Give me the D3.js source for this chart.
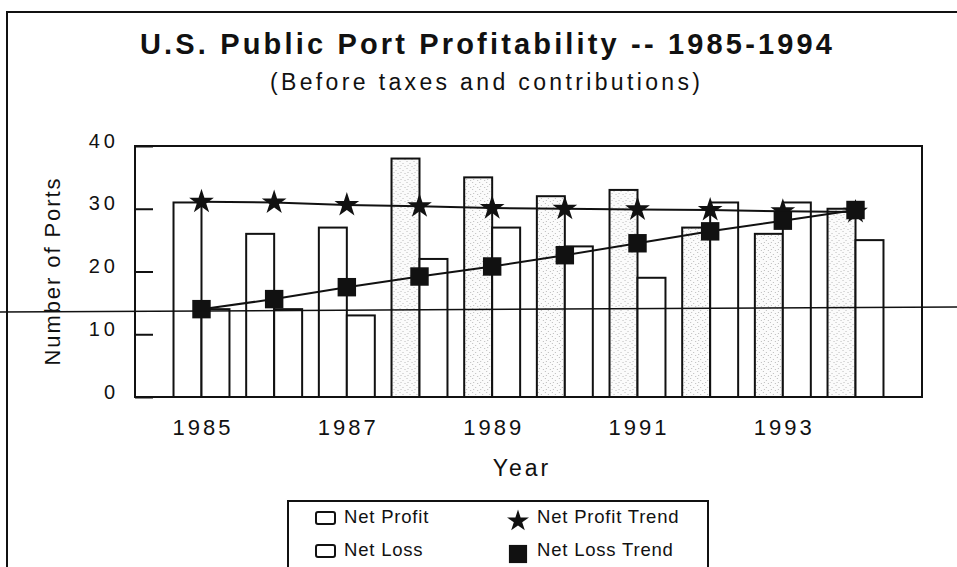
<!DOCTYPE html>
<html>
<head>
<meta charset="utf-8">
<script src="https://cdn.jsdelivr.net/npm/d3@7"></script>
<style>
  html, body { margin: 0; padding: 0; background: #fff; }
  svg { display: block; }
  text { font-family: "Liberation Sans", Arial, sans-serif; fill: #111; }
</style>
</head>
<body>
<div id="chart"></div>
<script>
const years = [1985, 1986, 1987, 1988, 1989, 1990, 1991, 1992, 1993, 1994];
const netProfit = [31, 26, 27, 38, 35, 32, 33, 27, 26, 30];
const netLoss = [14, 14, 13, 22, 27, 24, 19, 31, 31, 25];
const netProfitTrend = [31.1, 31.0, 30.6, 30.4, 30.1, 30.0, 29.9, 29.8, 29.6, 29.5];
const netLossTrend = [14.0, 15.6, 17.5, 19.2, 20.8, 22.6, 24.5, 26.4, 28.1, 29.8];
const yTicks = [0, 10, 20, 30, 40];
const xTickYears = [1985, 1987, 1989, 1991, 1993];

function draw() {
  const w = 957, h = 567;
  const margin = { top: 146, right: 35, bottom: 170, left: 135 };
  const innerW = w - margin.left - margin.right;
  const innerH = h - margin.top - margin.bottom;

  const svg = d3.select("#chart").append("svg")
    .attr("width", w)
    .attr("height", h);

  // stipple used on the profit bars (scanned look)
  const pat = svg.append("defs").append("pattern")
    .attr("id", "stipple")
    .attr("width", 7).attr("height", 7)
    .attr("patternUnits", "userSpaceOnUse");
  pat.append("rect").attr("width", 7).attr("height", 7).attr("fill", "#fbfbfb");
  [[1, 1], [4, 3], [2, 5], [6, 6]].forEach(([cx, cy]) =>
    pat.append("rect").attr("x", cx).attr("y", cy).attr("width", 1).attr("height", 1).attr("fill", "#bbb"));

  // outer frame
  svg.append("rect")
    .attr("x", 7).attr("y", 12)
    .attr("width", 990).attr("height", 600)
    .attr("fill", "none").attr("stroke", "#111").attr("stroke-width", 2);

  svg.append("text")
    .attr("x", 486).attr("y", 54)
    .attr("text-anchor", "middle")
    .attr("font-size", 29).attr("font-weight", "bold")
    .attr("textLength", 692).attr("lengthAdjust", "spacing")
    .text("U.S. Public Port Profitability -- 1985-1994");

  svg.append("text")
    .attr("x", 485).attr("y", 90)
    .attr("text-anchor", "middle")
    .attr("font-size", 23)
    .attr("textLength", 430).attr("lengthAdjust", "spacing")
    .text("(Before taxes and contributions)");

  const g = svg.append("g")
    .attr("transform", `translate(${margin.left},${margin.top})`);

  const x0 = d3.scaleBand()
    .domain(years)
    .range([0, innerW])
    .paddingInner(0.23)
    .paddingOuter(0.53);

  const x1 = d3.scaleBand()
    .domain(["profit", "loss"])
    .range([0, x0.bandwidth()]);

  const y = d3.scaleLinear()
    .domain([0, 40])
    .range([innerH, 0]);

  const rows = years.map((yr, i) => ({
    year: yr,
    profit: netProfit[i],
    loss: netLoss[i],
    pTrend: netProfitTrend[i],
    lTrend: netLossTrend[i]
  }));

  // bars
  const grp = g.selectAll("g.year")
    .data(rows)
    .join("g")
    .attr("class", "year")
    .attr("transform", d => `translate(${x0(d.year)},0)`);

  grp.append("rect")
    .attr("x", x1("profit"))
    .attr("y", d => y(d.profit))
    .attr("width", x1.bandwidth())
    .attr("height", d => innerH - y(d.profit))
    .attr("fill", d => d.year >= 1988 ? "url(#stipple)" : "#fff")
    .attr("stroke", "#111").attr("stroke-width", 2);

  grp.append("rect")
    .attr("x", x1("loss"))
    .attr("y", d => y(d.loss))
    .attr("width", x1.bandwidth())
    .attr("height", d => innerH - y(d.loss))
    .attr("fill", "#fff")
    .attr("stroke", "#111").attr("stroke-width", 2);

  // plot frame
  g.append("rect")
    .attr("width", innerW).attr("height", innerH)
    .attr("fill", "none").attr("stroke", "#111").attr("stroke-width", 2);

  // axes
  const yAxis = g.append("g")
    .call(d3.axisLeft(y).tickValues(yTicks).tickSize(-18).tickPadding(16));
  yAxis.select(".domain").remove();
  yAxis.selectAll("line").attr("stroke", "#111").attr("stroke-width", 2);
  yAxis.selectAll("text")
    .attr("dy", "0.05em")
    .attr("font-size", 20)
    .attr("letter-spacing", 4)
    .style("font-family", "'Liberation Sans', Arial, sans-serif")
    .attr("fill", "#111");

  const xAxis = g.append("g")
    .attr("transform", `translate(0,${innerH})`)
    .call(d3.axisBottom(x0).tickValues(xTickYears).tickSize(0).tickPadding(22));
  xAxis.select(".domain").remove();
  xAxis.selectAll("text")
    .attr("font-size", 22)
    .attr("letter-spacing", 3)
    .attr("dx", 1.5)
    .style("font-family", "'Liberation Sans', Arial, sans-serif")
    .attr("fill", "#111");

  // trend lines
  const cx = d => x0(d.year) + x0.bandwidth() / 2;

  g.append("path")
    .datum(rows)
    .attr("fill", "none").attr("stroke", "#111").attr("stroke-width", 2)
    .attr("d", d3.line().x(cx).y(d => y(d.pTrend)));

  g.append("path")
    .datum(rows)
    .attr("fill", "none").attr("stroke", "#111").attr("stroke-width", 2)
    .attr("d", d3.line().x(cx).y(d => y(d.lTrend)));

  const star = d3.symbol().type(d3.symbolStar).size(190);
  const square = d3.symbol().type(d3.symbolSquare).size(340);

  g.selectAll("path.star")
    .data(rows)
    .join("path")
    .attr("class", "star")
    .attr("transform", d => `translate(${cx(d)},${y(d.pTrend)})`)
    .attr("d", star)
    .attr("fill", "#111");

  g.selectAll("path.sq")
    .data(rows)
    .join("path")
    .attr("class", "sq")
    .attr("transform", d => `translate(${cx(d)},${y(d.lTrend)})`)
    .attr("d", square)
    .attr("fill", "#111");

  // axis titles
  svg.append("text")
    .attr("transform", "translate(60,272) rotate(-90)")
    .attr("text-anchor", "middle")
    .attr("font-size", 22)
    .attr("textLength", 187).attr("lengthAdjust", "spacing")
    .text("Number of Ports");

  svg.append("text")
    .attr("x", 522).attr("y", 476)
    .attr("text-anchor", "middle")
    .attr("font-size", 23)
    .attr("letter-spacing", 3)
    .text("Year");

  // legend
  const lg = svg.append("g");
  lg.append("rect")
    .attr("x", 288).attr("y", 501)
    .attr("width", 420).attr("height", 100)
    .attr("fill", "#fff").attr("stroke", "#111").attr("stroke-width", 2);

  const items = [
    { label: "Net Profit", kind: "box", x: 316, y: 517 },
    { label: "Net Loss", kind: "box", x: 316, y: 550 },
    { label: "Net Profit Trend", kind: "star", x: 507, y: 517 },
    { label: "Net Loss Trend", kind: "square", x: 507, y: 550 }
  ];

  items.forEach(it => {
    if (it.kind === "box") {
      lg.append("rect")
        .attr("x", it.x).attr("y", it.y - 5)
        .attr("width", 19).attr("height", 12)
        .attr("rx", 2)
        .attr("fill", "#fff").attr("stroke", "#111").attr("stroke-width", 2);
    } else {
      lg.append("path")
        .attr("transform", `translate(${it.x + 11},${it.y + 4})`)
        .attr("d", it.kind === "star" ? d3.symbol().type(d3.symbolStar).size(150)() : d3.symbol().type(d3.symbolSquare).size(330)())
        .attr("fill", "#111");
    }
    lg.append("text")
      .attr("x", it.kind === "box" ? it.x + 28 : it.x + 30)
      .attr("y", it.y + 6)
      .attr("font-size", 18.5)
      .attr("letter-spacing", 0.8)
      .text(it.label);
  });

  // scan artifact: thin stray line across the page
  svg.append("line")
    .attr("x1", 0).attr("y1", 312)
    .attr("x2", w).attr("y2", 307)
    .attr("stroke", "#111").attr("stroke-width", 1.5);
}

draw();
</script>
</body>
</html>
